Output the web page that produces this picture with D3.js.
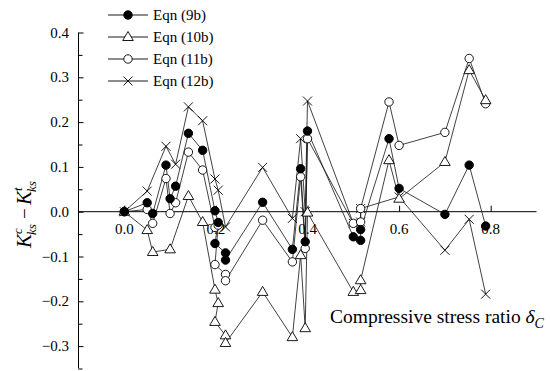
<!DOCTYPE html>
<html><head><meta charset="utf-8">
<script src="https://cdn.jsdelivr.net/npm/d3@7"></script>
<style>body{margin:0;background:#fff}svg{display:block}</style>
</head><body><svg id="c" width="550" height="371"></svg>
<script>
// null = no specimen value plotted for that equation at that stress ratio
const xValues = [0.000, 0.050, 0.062, 0.091, 0.100, 0.112, 0.140, 0.171, 0.198, 0.205, 0.198, 0.221, 0.221,
  0.302, 0.367, 0.385, 0.395, 0.400, 0.500, 0.516, 0.516, 0.578, 0.600, 0.700, 0.753, 0.789];
const eqn9b = [0, 0.020, -0.004, 0.104, 0.029, 0.057, 0.175, 0.137, 0.002, -0.024, -0.071, -0.092, -0.108,
  0.021, -0.084, 0.096, -0.067, 0.180, -0.056, -0.064, -0.040, 0.163, 0.052, -0.006, 0.104, -0.032];
const eqn10b = [0, -0.041, -0.090, null, -0.084, null, 0.035, -0.023, -0.174, -0.204, -0.246, -0.276, -0.293,
  -0.179, -0.280, -0.097, -0.260, -0.002, -0.179, -0.175, -0.153, 0.115, 0.029, 0.111, 0.316, 0.249];
const eqn11b = [0, 0.005, -0.026, 0.074, -0.004, 0.020, 0.133, 0.093, -0.035, -0.030, -0.118, -0.140, -0.154,
  -0.019, -0.112, 0.078, -0.082, 0.163, -0.026, -0.023, 0.007, 0.245, 0.148, 0.177, 0.342, 0.241];
const eqn12b = [0, 0.046, null, 0.146, null, 0.106, 0.234, 0.203, 0.073, 0.048, null, -0.034, null,
  0.099, -0.015, 0.163, 0.000, 0.247, -0.026, -0.023, 0.007, null, 0.033, -0.086, -0.017, -0.184];
const seriesNames = ["Eqn (9b)", "Eqn (10b)", "Eqn (11b)", "Eqn (12b)"];
const seriesMarkers = ["filled", "triangle", "circle", "cross"];
const yTickValues = [-0.3, -0.2, -0.1, 0.0, 0.1, 0.2, 0.3, 0.4];
const yMinorTickValues = [-0.35, -0.25, -0.15, -0.05, 0.05, 0.15, 0.25, 0.35];
const xTickValues = [0.0, 0.2, 0.4, 0.6, 0.8];

const serif = "'Liberation Serif','Times New Roman',serif";
const svg = d3.select("#c");
svg.append("rect").attr("width", 550).attr("height", 371).attr("fill", "#fff");

const x = d3.scaleLinear().domain([-0.1, 0.9]).range([78.5, 536.5]);
const y = d3.scaleLinear().domain([-0.35, 0.4]).range([368.5, 32.5]);

// Y axis
const yAxis = svg.append("g").attr("transform", `translate(${x(-0.1)},0)`)
  .call(d3.axisRight(y).tickValues(yTickValues).tickSize(5).tickFormat(""));
yAxis.select(".domain").attr("d", `M0,${y(0.4)}V${y(-0.35)}`);
svg.append("g").attr("transform", `translate(${x(-0.1)},0)`)
  .call(d3.axisRight(y).tickValues(yMinorTickValues).tickSize(4).tickFormat(""))
  .select(".domain").remove();
svg.append("g").selectAll("text").data(yTickValues).join("text")
  .attr("x", 69).attr("y", d => y(d) + 5)
  .attr("text-anchor", "end")
  .attr("font-family", serif).attr("font-size", 15)
  .text(d => d3.format(".1f")(d));

// X axis
const xAxis = svg.append("g").attr("transform", `translate(0,${y(0)})`)
  .call(d3.axisTop(x).tickValues(xTickValues).tickSize(6).tickFormat(""));
xAxis.select(".domain").attr("d", `M${x(-0.1)},0H${x(0.9)}`);
svg.append("g").selectAll("text").data(xTickValues).join("text")
  .attr("x", d => x(d)).attr("y", y(0) + 22)
  .attr("text-anchor", "middle")
  .attr("font-family", serif).attr("font-size", 15)
  .text(d => d3.format(".1f")(d));
svg.selectAll(".domain, .tick line").attr("stroke", "#000").attr("stroke-width", 1);

// Axis titles
const xt = svg.append("text").attr("x", 330).attr("y", 323)
  .attr("font-family", serif).attr("font-size", 19.5);
xt.append("tspan").text("Compressive stress ratio ");
xt.append("tspan").attr("font-style", "italic").text("δ");
xt.append("tspan").attr("font-style", "italic").attr("font-size", 14).attr("dy", 5).text("C");

const yt = svg.append("g").attr("transform", "translate(31,214) rotate(-90)")
  .attr("font-family", serif).attr("font-style", "italic");
yt.append("text").attr("x", -34).attr("y", 0).attr("font-size", 21).text("K");
yt.append("text").attr("x", -20).attr("y", -9).attr("font-size", 13).text("c");
yt.append("text").attr("x", -21).attr("y", 5).attr("font-size", 13).text("ks");
yt.append("text").attr("x", -5).attr("y", 0).attr("font-size", 19).attr("font-style", "normal").text("−");
yt.append("text").attr("x", 9).attr("y", 0).attr("font-size", 21).text("K");
yt.append("text").attr("x", 23).attr("y", -9).attr("font-size", 13).text("t");
yt.append("text").attr("x", 22).attr("y", 5).attr("font-size", 13).text("ks");

// markers
function drawMarker(g, kind, cx, cy) {
  if (kind === "filled") {
    g.append("circle").attr("cx", cx).attr("cy", cy).attr("r", 4.2).attr("fill", "#000").attr("stroke", "#000");
  } else if (kind === "circle") {
    g.append("circle").attr("cx", cx).attr("cy", cy).attr("r", 4.2).attr("fill", "#fff").attr("stroke", "#000").attr("stroke-width", 0.9);
  } else if (kind === "triangle") {
    g.append("path").attr("d", `M${cx},${cy - 5.5}L${cx + 5.3},${cy + 3.5}L${cx - 5.3},${cy + 3.5}Z`)
      .attr("fill", "#fff").attr("stroke", "#000").attr("stroke-width", 0.9);
  } else {
    const s = 4.5;
    g.append("path").attr("d", `M${cx - s},${cy - s}L${cx + s},${cy + s}M${cx - s},${cy + s}L${cx + s},${cy - s}`)
      .attr("fill", "none").attr("stroke", "#000").attr("stroke-width", 0.9);
  }
}

const allSeries = [eqn9b, eqn10b, eqn11b, eqn12b];
const line = d3.line().x(d => x(d[0])).y(d => y(d[1]));
const plot = svg.append("g");
const seriesPts = allSeries.map(ys => xValues.map((xv, j) => [xv, ys[j]]).filter(p => p[1] !== null));
seriesPts.forEach(pts => {
  plot.append("path").attr("d", line(pts)).attr("fill", "none").attr("stroke", "#111").attr("stroke-width", 0.8);
});
[3, 2, 1, 0].forEach(i => {
  const g = plot.append("g");
  seriesPts[i].forEach(p => drawMarker(g, seriesMarkers[i], x(p[0]), y(p[1])));
});

// legend
const legendY = [15, 37, 59, 81];
const lg = svg.append("g");
seriesNames.forEach((name, i) => {
  lg.append("line").attr("x1", 108).attr("x2", 148).attr("y1", legendY[i]).attr("y2", legendY[i])
    .attr("stroke", "#000").attr("stroke-width", 0.9);
  drawMarker(lg, seriesMarkers[i], 128, legendY[i]);
  lg.append("text").attr("x", 153).attr("y", legendY[i] + 5)
    .attr("font-family", serif).attr("font-size", 15).text(name);
});
</script></body></html>
